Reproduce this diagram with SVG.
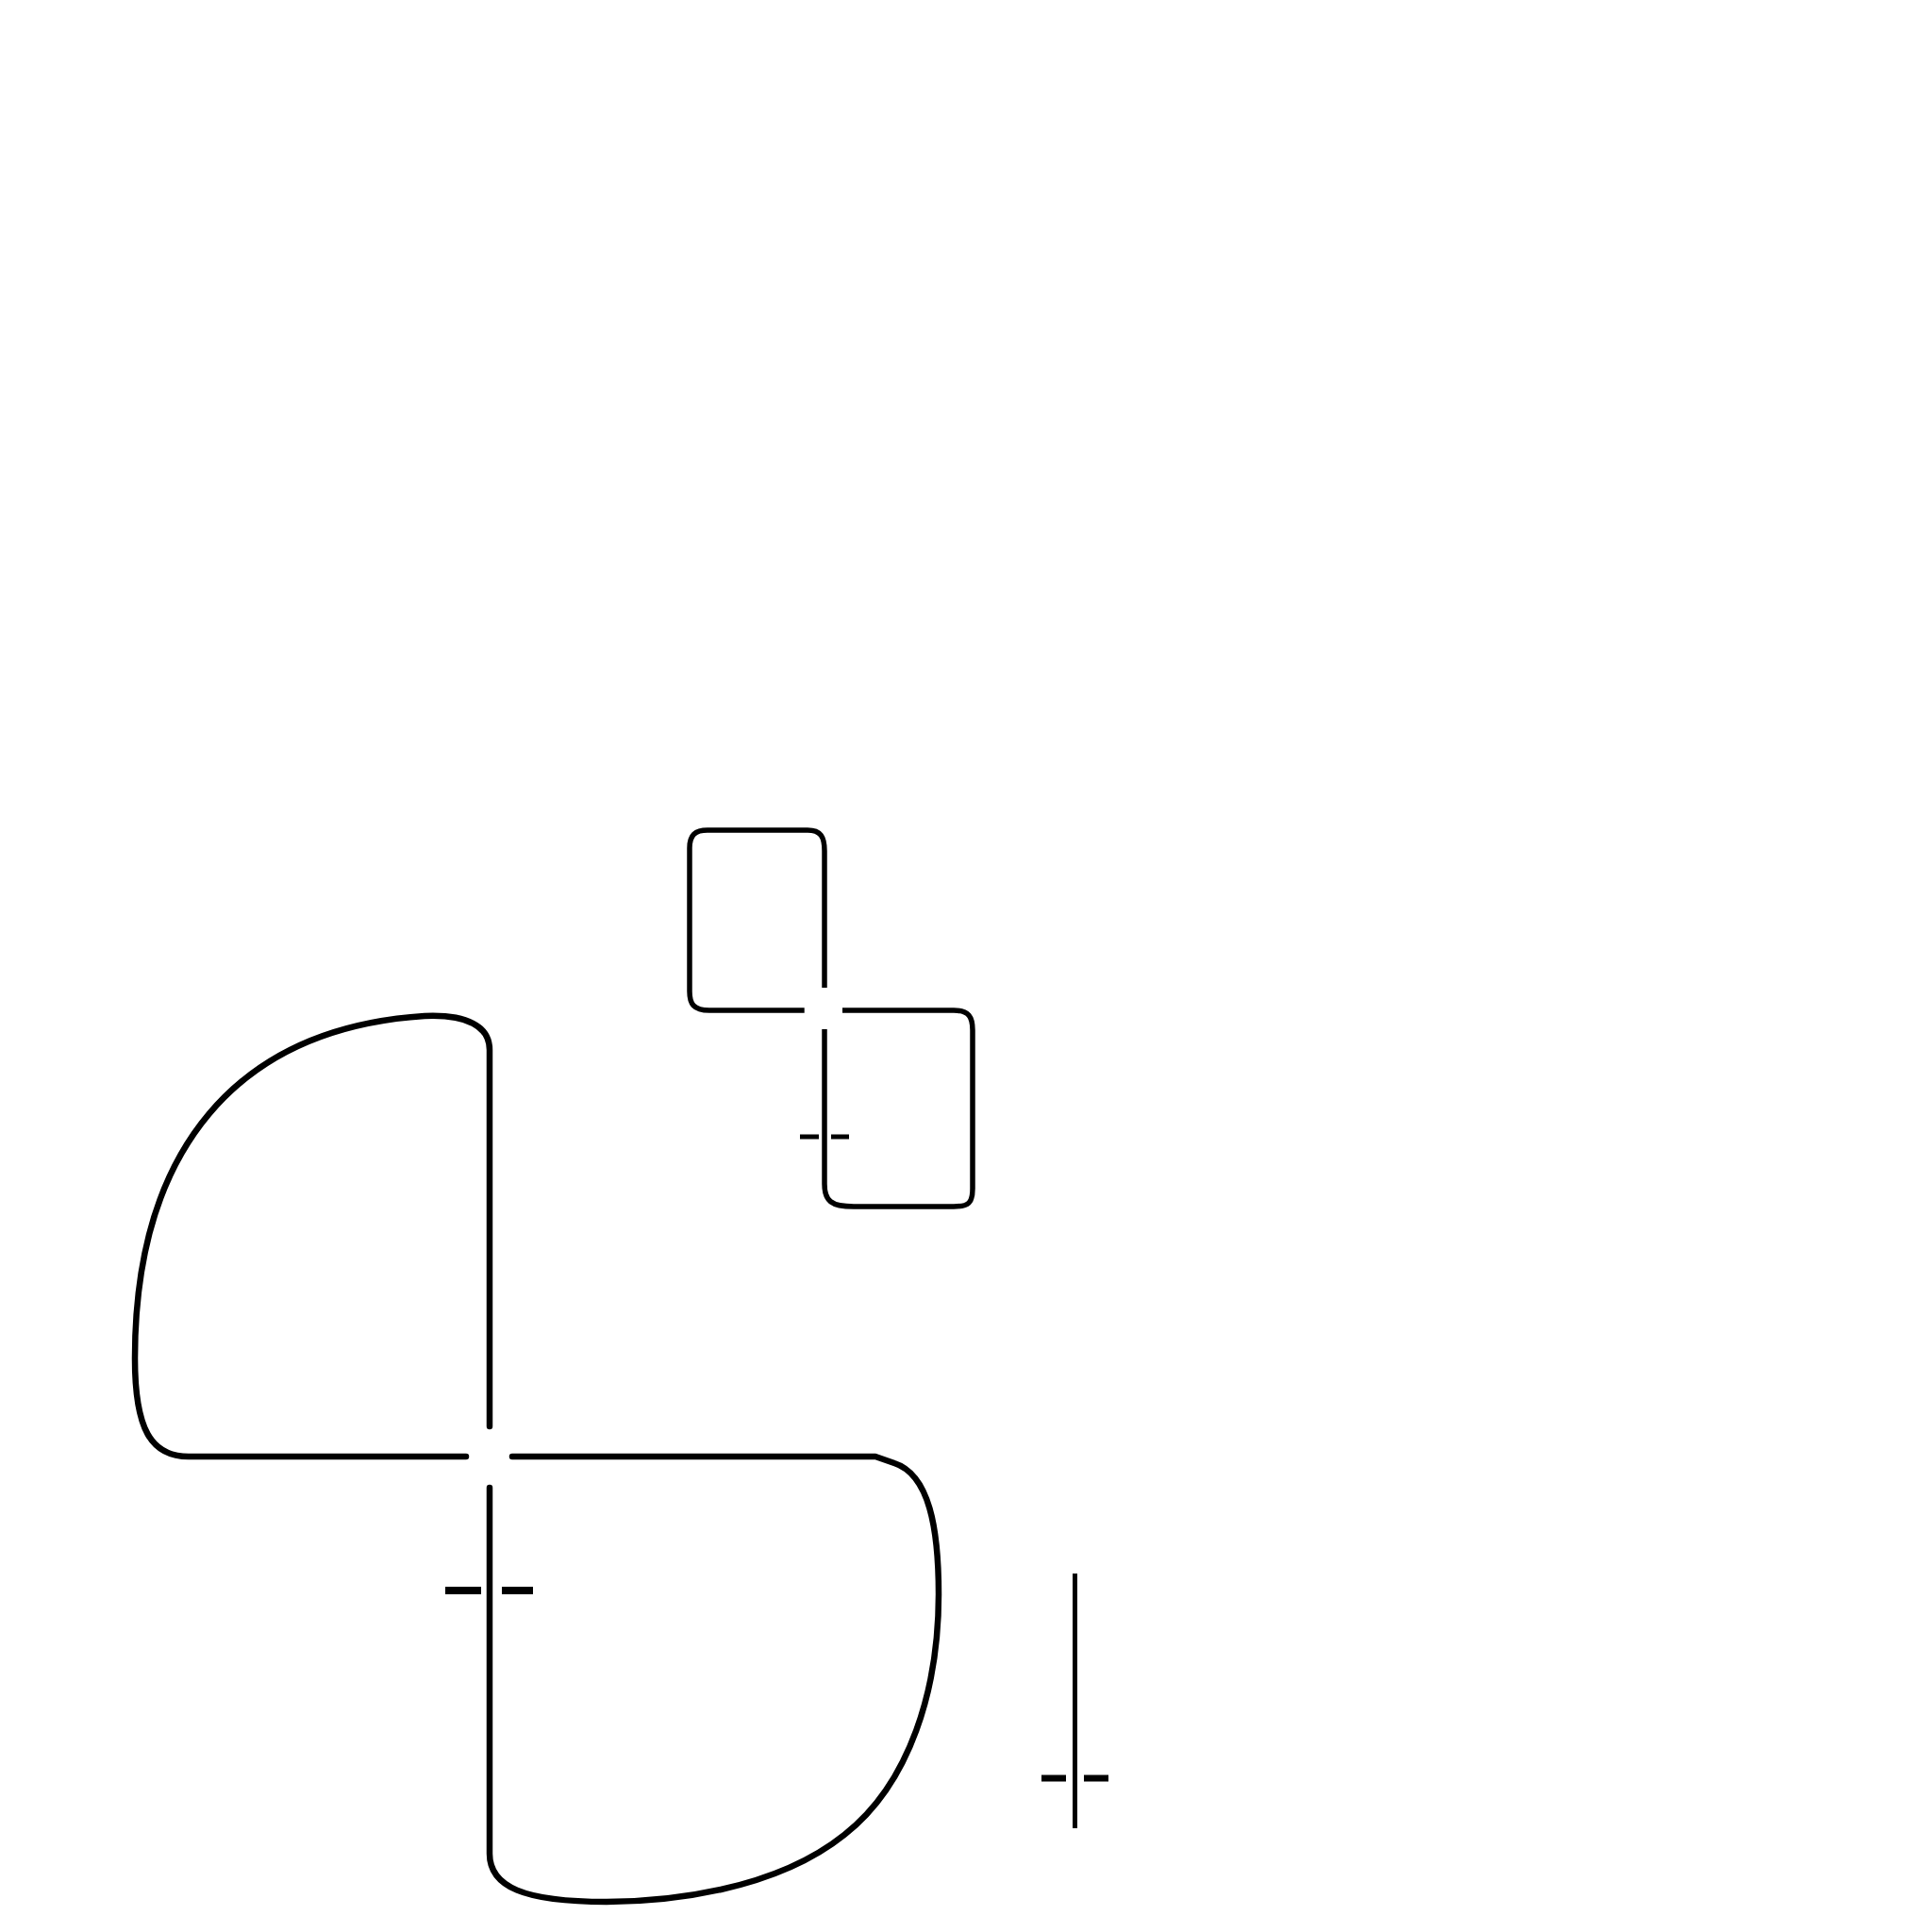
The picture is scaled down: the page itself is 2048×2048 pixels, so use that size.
<svg xmlns="http://www.w3.org/2000/svg" width="2048" height="2048" viewBox="0 0 2048 2048">
<style>
.c{fill:none;stroke:#000;stroke-linecap:round;stroke-linejoin:round}
.big{stroke-width:6.5}
.sm{stroke-width:5.5;stroke-linecap:butt}
.d{stroke:#000;stroke-linecap:butt}
</style>
<rect width="2048" height="2048" fill="#fff"/>
<g id="connectors">
<g id="small-loops">
<path class="c sm" d="M852.7,1071 H752 C735,1071 731,1064 731,1051 V899 C731,885 737,880 750,880 H856 C870,880 874,887 874,902 V1047"/>
<path class="c sm" d="M893,1071 H1011 C1027,1071 1031,1078 1031,1092 V1260 C1031,1275 1027,1279 1011,1279 H905 C881,1279 874,1273 874,1255 V1091"/>
<line class="d" x1="848" y1="1205" x2="868" y2="1205" stroke-width="5"/>
<line class="d" x1="881" y1="1205" x2="900" y2="1205" stroke-width="5"/>
</g>
<g id="big-loops">
<path class="c big" d="M494,1544 H200 C160,1544 143,1515 143,1440 C143,1220 250,1090 450,1077 C495,1075 519,1088 519,1113 V1512"/>
<path class="c big" d="M543,1544 H928 L948,1551 C985,1563 995,1620 995,1690 C995,1790 965,1890 895,1945 C820,2005 705,2016 643,2016 C555,2016 519,2000 519,1965 V1577"/>
<line class="d" x1="472" y1="1686" x2="510" y2="1686" stroke-width="8"/>
<line class="d" x1="532" y1="1686" x2="565" y2="1686" stroke-width="8"/>
</g>
<g id="right-line">
<line class="d" x1="1139.5" y1="1668" x2="1139.5" y2="1938" stroke-width="5"/>
<line class="d" x1="1104" y1="1885" x2="1130" y2="1885" stroke-width="7"/>
<line class="d" x1="1149" y1="1885" x2="1175" y2="1885" stroke-width="7"/>
</g>
</g>
</svg>
